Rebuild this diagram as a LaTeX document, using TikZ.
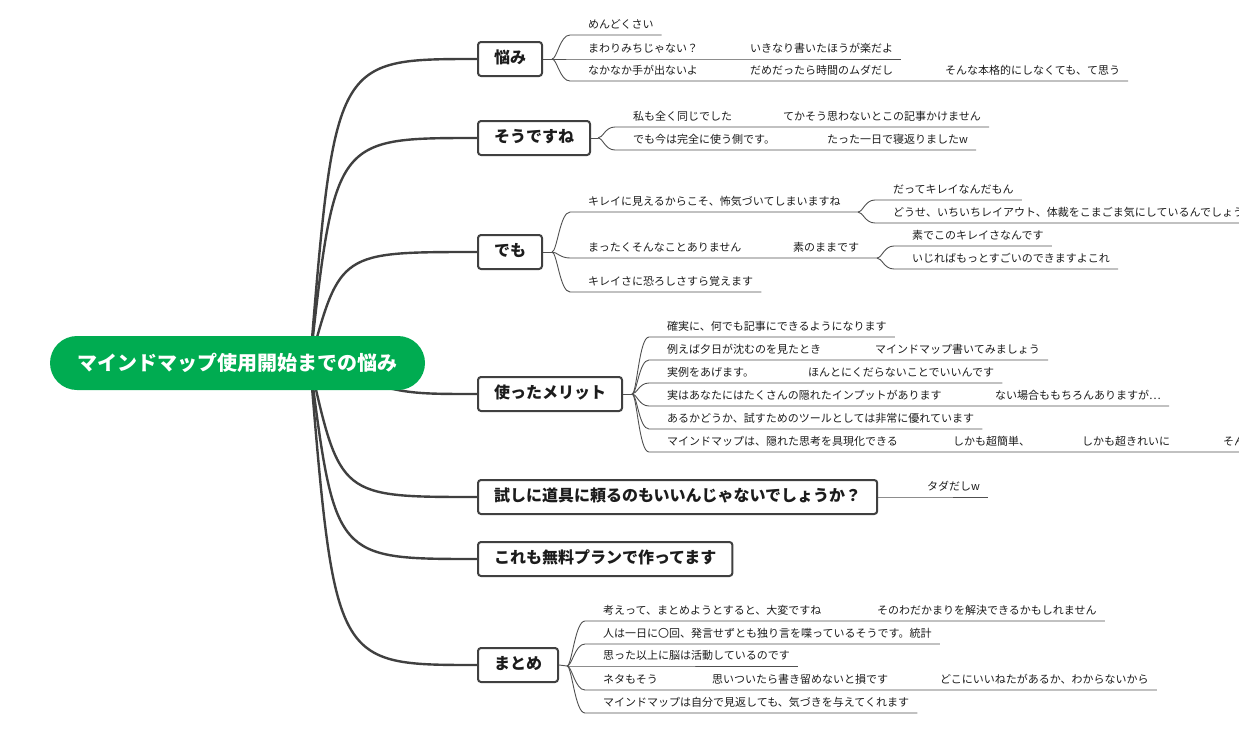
\documentclass[tikz,border=0pt]{standalone}
\usepackage{fontspec}
\setmainfont{Noto Sans CJK JP}
\definecolor{mapgreen}{RGB}{0,172,81}
\definecolor{inkgray}{RGB}{64,64,64}
\definecolor{twiggray}{RGB}{80,80,80}
\definecolor{txtgray}{RGB}{28,28,28}

\begin{document}
\begin{tikzpicture}[x=1pt, y=-1pt,
  root/.style={fill=mapgreen, text=white, rounded corners=27pt, minimum width=375pt, minimum height=54pt, font=\bfseries\fontsize{20}{24}\selectfont},
  topic/.style={draw=inkgray, line width=2pt, fill=white, rounded corners=3pt, anchor=west, minimum height=34pt, inner xsep=16pt, text height=12pt, text depth=3pt, font=\bfseries\fontsize{16}{19}\selectfont, text=txtgray},
  leaf/.style={anchor=south west, inner xsep=8pt, inner ysep=4pt, text height=9pt, text depth=2pt, font=\fontsize{11}{13}\selectfont, text=txtgray},
  trunk/.style={draw=inkgray, line width=2.4pt},
  twig/.style={draw=twiggray, line width=0.9pt}]
\useasboundingbox (0,0) rectangle (1239,728);
\clip (0,0) rectangle (1239,728);

% main topics
\node[topic] (worry) at (477,59) {悩み};
\node[topic] (agree) at (477,138) {そうですね};
\node[topic] (but) at (477,252) {でも};
\node[topic] (merit) at (477,394) {使ったメリット};
\node[topic] (tool) at (477,497) {試しに道具に頼るのもいいんじゃないでしょうか？};
\node[topic] (free) at (477,559) {これも無料プランで作ってます};
\node[topic] (sum) at (477,665) {まとめ};

% trunks from the centre
\coordinate (hub) at (310,363);
\draw[trunk] (hub) .. controls (335,59) .. (worry.west);
\draw[trunk] (hub) .. controls (335,138) .. (agree.west);
\draw[trunk] (hub) .. controls (340,252) .. (but.west);
\draw[trunk] (hub) .. controls (400,394) .. (merit.west);
\draw[trunk] (hub) .. controls (340,497) .. (tool.west);
\draw[trunk] (hub) .. controls (335,559) .. (free.west);
\draw[trunk] (hub) .. controls (335,665) .. (sum.west);
\node[root] (title) at (237.5,363) {マインドマップ使用開始までの悩み};

% 悩み
\coordinate (worryb) at (552,59);
\node[leaf] (w1) at (580,35) {めんどくさい};
\node[leaf] (w2) at (580,59) {まわりみちじゃない？};
\node[leaf] (w2a) at (742,59) {いきなり書いたほうが楽だよ};
\node[leaf] (w3) at (580,81) {なかなか手が出ないよ};
\node[leaf] (w3a) at (742,81) {だめだったら時間のムダだし};
\node[leaf] (w3b) at (937,81) {そんな本格的にしなくても、て思う};
\draw[twig] (worry.east) -- (worryb);
\draw[twig] (worryb) .. controls +(5,0) and +(-10,0) .. ([xshift=-10pt]w1.south west) -- (w1.south east);
\draw[twig] (worryb) -- (w2.south west) -- (w2.south east) -- (w2a.south west) -- (w2a.south east);
\draw[twig] (worryb) .. controls +(5,0) and +(-10,0) .. ([xshift=-10pt]w3.south west) -- (w3.south east) -- (w3a.south west) -- (w3a.south east) -- (w3b.south west) -- (w3b.south east);

% そうですね
\coordinate (agreeb) at (598,138);
\node[leaf] (s1) at (625,127) {私も全く同じでした};
\node[leaf] (s1a) at (775,127) {てかそう思わないとこの記事かけません};
\node[leaf] (s2) at (625,150) {でも今は完全に使う側です。};
\node[leaf] (s2a) at (819,150) {たった一日で寝返りましたw};
\draw[twig] (agree.east) -- (agreeb);
\draw[twig] (agreeb) .. controls +(5,0) and +(-10,0) .. ([xshift=-10pt]s1.south west) -- (s1.south east) -- (s1a.south west) -- (s1a.south east);
\draw[twig] (agreeb) .. controls +(5,0) and +(-10,0) .. ([xshift=-10pt]s2.south west) -- (s2.south east) -- (s2a.south west) -- (s2a.south east);

% でも
\coordinate (butb) at (552,252);
\node[leaf] (d1) at (580,212) {キレイに見えるからこそ、怖気づいてしまいますね};
\coordinate (d1b) at (858,212);
\node[leaf] (d1x) at (885,200) {だってキレイなんだもん};
\node[leaf] (d1y) at (885,223) {どうせ、いちいちレイアウト、体裁をこまごま気にしているんでしょう};
\node[leaf] (d2) at (580,258) {まったくそんなことありません};
\node[leaf] (d2a) at (785,258) {素のままです};
\coordinate (d2b) at (877,258);
\node[leaf] (d2x) at (904,246) {素でこのキレイさなんです};
\node[leaf] (d2y) at (904,269) {いじればもっとすごいのできますよこれ};
\node[leaf] (d3) at (580,292) {キレイさに恐ろしさすら覚えます};
\draw[twig] (but.east) -- (butb);
\draw[twig] (butb) .. controls +(5,0) and +(-10,0) .. ([xshift=-10pt]d1.south west) -- (d1.south east) -- (d1b);
\draw[twig] (d1b) .. controls +(5,0) and +(-10,0) .. ([xshift=-10pt]d1x.south west) -- (d1x.south east);
\draw[twig] (d1b) .. controls +(5,0) and +(-10,0) .. ([xshift=-10pt]d1y.south west) -- (d1y.south east);
\draw[twig] (butb) .. controls +(5,0) and +(-10,0) .. ([xshift=-10pt]d2.south west) -- (d2.south east) -- (d2a.south west) -- (d2a.south east) -- (d2b);
\draw[twig] (d2b) .. controls +(5,0) and +(-10,0) .. ([xshift=-10pt]d2x.south west) -- (d2x.south east);
\draw[twig] (d2b) .. controls +(5,0) and +(-10,0) .. ([xshift=-10pt]d2y.south west) -- (d2y.south east);
\draw[twig] (butb) .. controls +(5,0) and +(-10,0) .. ([xshift=-10pt]d3.south west) -- (d3.south east);

% 使ったメリット
\coordinate (meritb) at (632,394);
\node[leaf] (m1) at (659,337) {確実に、何でも記事にできるようになります};
\node[leaf] (m2) at (659,360) {例えば夕日が沈むのを見たとき};
\node[leaf] (m2a) at (867,360) {マインドマップ書いてみましょう};
\node[leaf] (m3) at (659,383) {実例をあげます。};
\node[leaf] (m3a) at (800,383) {ほんとにくだらないことでいいんです};
\node[leaf] (m4) at (659,406) {実はあなたにはたくさんの隠れたインプットがあります};
\node[leaf] (m4a) at (987,406) {ない場合ももちろんありますが…};
\node[leaf] (m5) at (659,429) {あるかどうか、試すためのツールとしては非常に優れています};
\node[leaf] (m6) at (659,452) {マインドマップは、隠れた思考を具現化できる};
\node[leaf] (m6a) at (945,452) {しかも超簡単、};
\node[leaf] (m6b) at (1074,452) {しかも超きれいに};
\node[leaf] (m6c) at (1215,452) {そん};
\draw[twig] (merit.east) -- (meritb);
\draw[twig] (meritb) .. controls +(5,0) and +(-10,0) .. ([xshift=-10pt]m1.south west) -- (m1.south east);
\draw[twig] (meritb) .. controls +(5,0) and +(-10,0) .. ([xshift=-10pt]m2.south west) -- (m2.south east) -- (m2a.south west) -- (m2a.south east);
\draw[twig] (meritb) .. controls +(5,0) and +(-10,0) .. ([xshift=-10pt]m3.south west) -- (m3.south east) -- (m3a.south west) -- (m3a.south east);
\draw[twig] (meritb) .. controls +(5,0) and +(-10,0) .. ([xshift=-10pt]m4.south west) -- (m4.south east) -- (m4a.south west) -- (m4a.south east);
\draw[twig] (meritb) .. controls +(5,0) and +(-10,0) .. ([xshift=-10pt]m5.south west) -- (m5.south east);
\draw[twig] (meritb) .. controls +(5,0) and +(-10,0) .. ([xshift=-10pt]m6.south west) -- (m6.south east) -- (m6a.south west) -- (m6a.south east) -- (m6b.south west) -- (m6b.south east) -- (m6c.south west) -- (m6c.south east);

% 試しに道具に…
\node[leaf] (t1) at (919,497) {タダだしw};
\draw[twig] (tool.east) -- (t1.south west) -- (t1.south east);

% まとめ
\coordinate (sumb) at (567,666);
\node[leaf] (g1) at (595,621) {考えって、まとめようとすると、大変ですね};
\node[leaf] (g1a) at (869,621) {そのわだかまりを解決できるかもしれません};
\node[leaf] (g2) at (595,644) {人は一日に〇回、発言せずとも独り言を喋っているそうです。統計};
\node[leaf] (g3) at (595,666) {思った以上に脳は活動しているのです};
\node[leaf] (g4) at (595,690) {ネタもそう};
\node[leaf] (g4a) at (704,690) {思いついたら書き留めないと損です};
\node[leaf] (g4b) at (932,690) {どこにいいねたがあるか、わからないから};
\node[leaf] (g5) at (595,713) {マインドマップは自分で見返しても、気づきを与えてくれます};
\draw[twig] (sum.east) -- (sumb);
\draw[twig] (sumb) .. controls +(5,0) and +(-10,0) .. ([xshift=-10pt]g1.south west) -- (g1.south east) -- (g1a.south west) -- (g1a.south east);
\draw[twig] (sumb) .. controls +(5,0) and +(-10,0) .. ([xshift=-10pt]g2.south west) -- (g2.south east);
\draw[twig] (sumb) -- (g3.south west) -- (g3.south east);
\draw[twig] (sumb) .. controls +(5,0) and +(-10,0) .. ([xshift=-10pt]g4.south west) -- (g4.south east) -- (g4a.south west) -- (g4a.south east) -- (g4b.south west) -- (g4b.south east);
\draw[twig] (sumb) .. controls +(5,0) and +(-10,0) .. ([xshift=-10pt]g5.south west) -- (g5.south east);
\end{tikzpicture}
\end{document}
